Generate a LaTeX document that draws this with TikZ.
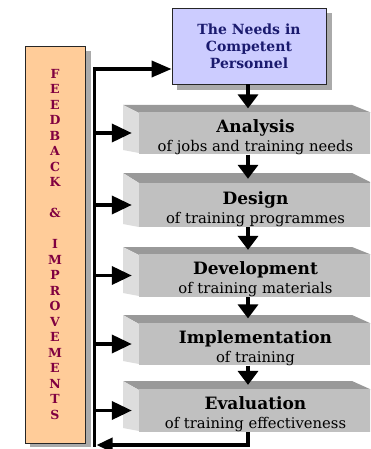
\documentclass[tikz,border=0pt]{standalone}
\usepackage{fontspec}
\setmainfont{DejaVu Serif}
\usetikzlibrary{arrows.meta}
\definecolor{needfill}{RGB}{204,204,255}
\definecolor{needtext}{RGB}{26,26,110}
\definecolor{fbfill}{RGB}{255,204,153}
\definecolor{fbtext}{RGB}{128,0,64}
\definecolor{shadowgray}{RGB}{170,170,170}
\definecolor{topgray}{RGB}{153,153,153}
\definecolor{frontgray}{RGB}{192,192,192}
\definecolor{leftgray}{RGB}{221,221,221}
\newcommand\titlef{\bfseries\fontsize{17}{19}\selectfont}
\newcommand\subf{\fontsize{14.8}{19}\selectfont}
\tikzset{
  frontbox/.style={fill=frontgray, minimum width=233pt, inner sep=0pt, align=center, anchor=center, font=\fontsize{14.8}{19}\selectfont},
  needbox/.style={fill=needfill, draw=black!85, line width=0.8pt, minimum width=154pt, minimum height=76pt, align=center, text=needtext, font=\bfseries\fontsize{14}{17}\selectfont},
  fbbox/.style={fill=fbfill, draw=black!85, line width=0.8pt, minimum width=60pt, minimum height=397pt, align=center, text=fbtext, font=\bfseries\fontsize{12.5}{15.5}\selectfont},
  conn/.style={line width=3.6pt},
  sidearrow/.style={conn, -{Triangle[length=20pt,width=18pt]}},
  downarrow/.style={conn, -{Triangle[length=14pt,width=20pt]}},
  toparrow/.style={conn, -{Triangle[length=20pt,width=16pt]}},
  backarrow/.style={conn, -{Triangle[length=16pt,width=14pt]}},
}
\newcommand\cubebar[6]{%
  \fill[topgray] (123,#2) -- (352,#2) -- (372,#3) -- (139,#3) -- cycle;
  \fill[leftgray] (123,#2) -- (139,#3) -- (139,#4) -- (123,{#4-3}) -- cycle;
  \node[frontbox, minimum height={(#4-#3)*1pt}] (#1) at (255.5,{(#3+#4)/2}) {{\titlef\rule{0pt}{20.5pt}#5}\\{\subf #6}};
}
\begin{document}
\begin{tikzpicture}[x=1pt,y=-1pt]
\useasboundingbox (0,0) rectangle (370,449);
\clip (0,0) rectangle (370,449);
\fill[white] (0,0) rectangle (370,449);
% shadows
\fill[shadowgray] (177,13) rectangle (332,90);
\fill[shadowgray] (30,51) rectangle (91,447);
% boxes
\node[needbox] (need) at (249,46) {The Needs in\\Competent\\Personnel};
\node[fbbox] (fb) at (55,244.5) {F\\E\\E\\D\\B\\A\\C\\K\\\mbox{}\\\&\\\mbox{}\\I\\M\\P\\R\\O\\V\\E\\M\\E\\N\\T\\S};
% bars
\cubebar{ana}{105}{113}{153}{Analysis}{of jobs and training needs}
\cubebar{des}{173}{183}{227}{Design}{of training programmes}
\cubebar{dev}{247}{255}{296}{Development}{of training materials}
\cubebar{imp}{315}{324}{364}{Implementation}{of training}
\cubebar{eva}{381}{390}{431}{Evaluation}{of training effectiveness}
% coordinates
\coordinate (vx) at (248,0);
\coordinate (fbTop) at (94.5,69);
\coordinate (fbBot) at (94.5,445);
% feedback line and arrow to top box
\draw[toparrow, line cap=rect] (fbBot) -- (fbTop) -- (need.west |- fbTop);
% side arrows
\foreach \b in {ana,des,dev,imp,eva}
  \draw[sidearrow, shorten >=7pt] (\b.west -| fbTop) -- (\b.west);
% down arrows
\draw[downarrow, shorten >=3pt] (need.south -| vx) -- (ana.north -| vx);
\draw[downarrow, shorten >=4pt] (ana.south -| vx) -- (des.north -| vx);
\draw[downarrow, shorten >=4pt] (des.south -| vx) -- (dev.north -| vx);
\draw[downarrow, shorten >=4pt] (dev.south -| vx) -- (imp.north -| vx);
\draw[downarrow, shorten >=4pt] (imp.south -| vx) -- (eva.north -| vx);
% return arrow
\draw[backarrow, shorten >=2pt] (eva.south -| vx) -- (vx |- fbBot) -- (fbBot);
\end{tikzpicture}
\end{document}
